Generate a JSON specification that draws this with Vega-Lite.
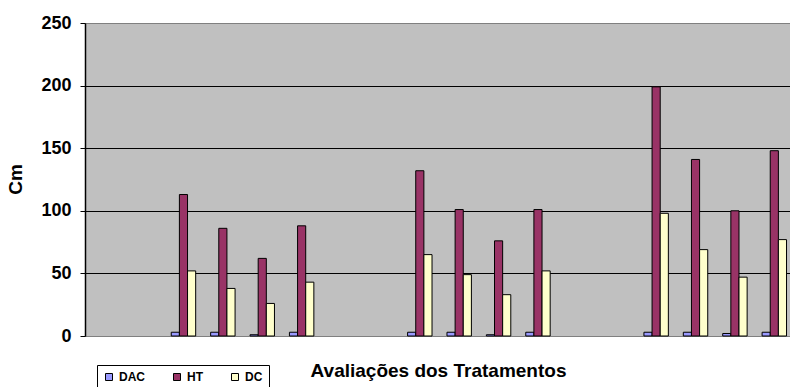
{
  "$schema": "https://vega.github.io/schema/vega-lite/v6.json",
  "autosize": "none",
  "padding": {"left": 85, "top": 23, "right": 0, "bottom": 51},
  "width": 709,
  "height": 313,
  "background": "white",
  "config": {
    "font": "Liberation Sans",
    "view": {"fill": "#C0C0C0", "stroke": "#808080", "strokeWidth": 1}
  },
  "data": {
    "values": [
      {"slot": "1", "serie": "DAC", "valor": 3},
      {"slot": "1", "serie": "HT", "valor": 113},
      {"slot": "1", "serie": "DC", "valor": 52},
      {"slot": "2", "serie": "DAC", "valor": 3},
      {"slot": "2", "serie": "HT", "valor": 86},
      {"slot": "2", "serie": "DC", "valor": 38},
      {"slot": "3", "serie": "DAC", "valor": 1},
      {"slot": "3", "serie": "HT", "valor": 62},
      {"slot": "3", "serie": "DC", "valor": 26},
      {"slot": "4", "serie": "DAC", "valor": 3},
      {"slot": "4", "serie": "HT", "valor": 88},
      {"slot": "4", "serie": "DC", "valor": 43},
      {"slot": "5", "serie": "DAC", "valor": 3},
      {"slot": "5", "serie": "HT", "valor": 132},
      {"slot": "5", "serie": "DC", "valor": 65},
      {"slot": "6", "serie": "DAC", "valor": 3},
      {"slot": "6", "serie": "HT", "valor": 101},
      {"slot": "6", "serie": "DC", "valor": 49},
      {"slot": "7", "serie": "DAC", "valor": 1},
      {"slot": "7", "serie": "HT", "valor": 76},
      {"slot": "7", "serie": "DC", "valor": 33},
      {"slot": "8", "serie": "DAC", "valor": 3},
      {"slot": "8", "serie": "HT", "valor": 101},
      {"slot": "8", "serie": "DC", "valor": 52},
      {"slot": "9", "serie": "DAC", "valor": 3},
      {"slot": "9", "serie": "HT", "valor": 199},
      {"slot": "9", "serie": "DC", "valor": 98},
      {"slot": "10", "serie": "DAC", "valor": 3},
      {"slot": "10", "serie": "HT", "valor": 141},
      {"slot": "10", "serie": "DC", "valor": 69},
      {"slot": "11", "serie": "DAC", "valor": 2},
      {"slot": "11", "serie": "HT", "valor": 100},
      {"slot": "11", "serie": "DC", "valor": 47},
      {"slot": "12", "serie": "DAC", "valor": 3},
      {"slot": "12", "serie": "HT", "valor": 148},
      {"slot": "12", "serie": "DC", "valor": 77}
    ]
  },
  "mark": {"type": "bar", "stroke": "black", "strokeWidth": 1},
  "encoding": {
    "x": {
      "field": "slot",
      "type": "nominal",
      "scale": {
        "domain": ["a", "b", "1", "2", "3", "4", "c", "d", "5", "6", "7", "8", "e", "f", "9", "10", "11", "12"],
        "paddingInner": 0.38,
        "paddingOuter": 0.19
      },
      "axis": {
        "title": "Avaliações dos Tratamentos",
        "titleFont": "Liberation Sans",
        "titleFontSize": 19,
        "titleFontWeight": "bold",
        "titleColor": "black",
        "titleX": 353,
        "titleY": 40,
        "titleBaseline": "alphabetic",
        "labels": false,
        "ticks": false,
        "domain": false
      }
    },
    "xOffset": {
      "field": "serie",
      "type": "nominal",
      "scale": {"domain": ["DAC", "HT", "DC"], "paddingInner": 0, "paddingOuter": 0}
    },
    "y": {
      "field": "valor",
      "type": "quantitative",
      "scale": {"domain": [0, 250], "nice": false},
      "axis": {
        "title": "Cm",
        "titleFont": "Liberation Sans",
        "titleFontSize": 19,
        "titleFontWeight": "bold",
        "titleColor": "black",
        "titleX": -64,
        "titleY": 156,
        "titleAngle": -90,
        "titleAlign": "center",
        "titleBaseline": "alphabetic",
        "values": [0, 50, 100, 150, 200, 250],
        "labelFont": "Liberation Sans",
        "labelFontSize": 18,
        "labelFontWeight": "bold",
        "labelColor": "black",
        "labelPadding": 9,
        "tickSize": 5,
        "tickColor": "black",
        "tickWidth": 1,
        "domainColor": "black",
        "domainWidth": 1.5,
        "grid": true,
        "gridColor": {"condition": {"test": "datum.value == 250 || datum.value == 0", "value": "#808080"}, "value": "black"},
        "gridWidth": 1.2
      }
    },
    "color": {
      "field": "serie",
      "type": "nominal",
      "scale": {"domain": ["DAC", "HT", "DC"], "range": ["#9999FF", "#993366", "#FFFFCC"]},
      "legend": {
        "title": null,
        "orient": "none",
        "legendX": 12,
        "legendY": 342,
        "direction": "horizontal",
        "fillColor": "white",
        "strokeColor": "black",
        "padding": 6,
        "symbolType": "square",
        "symbolSize": 49,
        "symbolStrokeColor": "black",
        "symbolStrokeWidth": 1,
        "labelFont": "Liberation Sans",
        "labelFontSize": 12,
        "labelFontWeight": "bold",
        "labelColor": "black",
        "labelOffset": 4,
        "columnPadding": 26
      }
    }
  }
}
